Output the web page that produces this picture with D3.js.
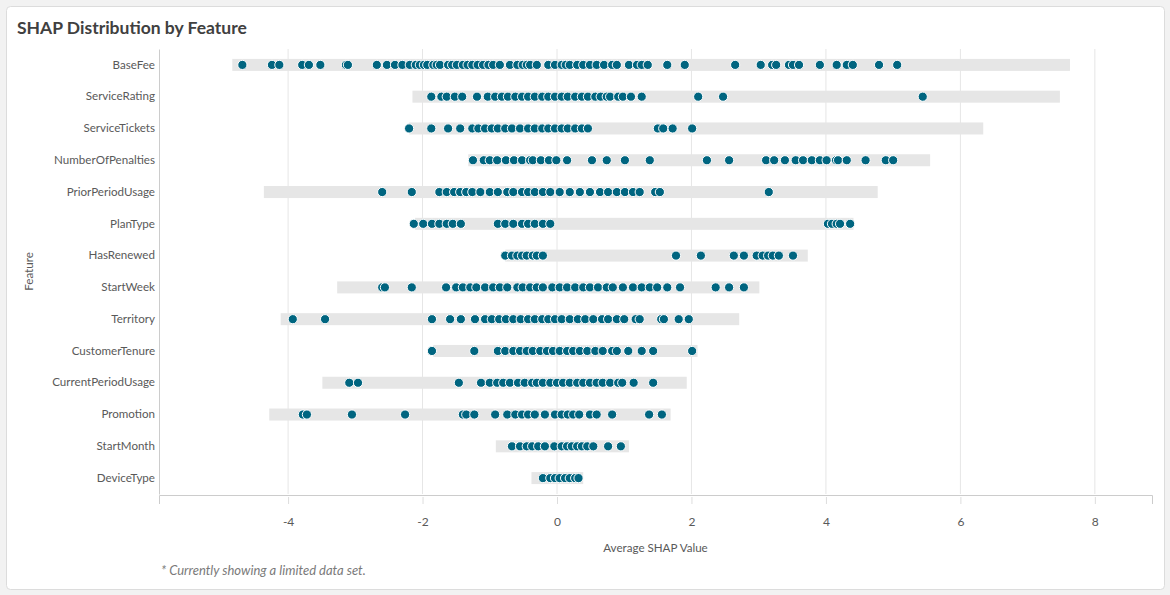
<!DOCTYPE html>
<html>
<head>
<meta charset="utf-8">
<script src="https://cdn.jsdelivr.net/npm/d3@7"></script>
<style>
  html, body { margin: 0; padding: 0; background: #f2f2f2; }
  body { width: 1170px; height: 595px; overflow: hidden; }
  text { font-family: Lato, "Open Sans", sans-serif; }
</style>
</head>
<body>
<div class="shap-plot"></div>
<script>
const features = ['BaseFee', 'ServiceRating', 'ServiceTickets', 'NumberOfPenalties', 'PriorPeriodUsage',
  'PlanType', 'HasRenewed', 'StartWeek', 'Territory', 'CustomerTenure', 'CurrentPeriodUsage',
  'Promotion', 'StartMonth', 'DeviceType'];

// full range of each feature (gray bar)
const rangeMin = [-4.83, -2.15, -2.20, -1.32, -4.36, -2.11, -0.77, -3.27, -4.11, -1.84, -3.49, -4.28, -0.91, -0.38];
const rangeMax = [7.63, 7.48, 6.34, 5.55, 4.77, 4.41, 3.73, 3.01, 2.71, 2.09, 1.93, 1.69, 1.07, 0.39];

// shap values shown as dots
const baseFee = [-4.68, -4.24, -4.13, -3.79, -3.69, -3.52, -3.14, -3.11, -2.68, -2.53, -2.41, -2.30, -2.19, -2.10,
  -2.04, -1.98, -1.93, -1.84, -1.79, -1.74, -1.62, -1.56, -1.49, -1.40, -1.33, -1.26, -1.18, -1.10, -1.02, -0.95,
  -0.85, -0.70, -0.59, -0.51, -0.45, -0.40, -0.30, -0.13, -0.03, 0.07, 0.13, 0.19, 0.30, 0.39, 0.49, 0.59, 0.70,
  0.82, 0.89, 1.07, 1.19, 1.26, 1.35, 1.64, 1.90, 2.65, 3.03, 3.20, 3.26, 3.45, 3.51, 3.60, 3.91, 4.16, 4.31,
  4.40, 4.79, 5.06];
const serviceRating = [-1.87, -1.72, -1.64, -1.52, -1.41, -1.19, -1.03, -0.92, -0.82, -0.73, -0.62, -0.52, -0.43,
  -0.33, -0.22, -0.13, -0.03, 0.07, 0.16, 0.27, 0.37, 0.46, 0.57, 0.65, 0.74, 0.79, 0.91, 0.98, 1.10, 1.26, 2.10,
  2.47, 5.44];
const serviceTickets = [-2.20, -1.87, -1.62, -1.44, -1.26, -1.17, -1.07, -0.97, -0.88, -0.77, -0.67, -0.55, -0.43,
  -0.33, -0.22, -0.13, -0.03, 0.07, 0.16, 0.27, 0.37, 0.46, 1.50, 1.58, 1.72, 2.01];
const numberOfPenalties = [-1.25, -1.09, -1.00, -0.89, -0.76, -0.64, -0.52, -0.40, -0.36, -0.24, -0.12, -0.01,
  0.15, 0.52, 0.74, 1.01, 1.38, 2.23, 2.56, 3.11, 3.23, 3.39, 3.55, 3.66, 3.79, 3.91, 4.01, 4.15, 4.18, 4.31,
  4.59, 4.89, 5.00];
const priorPeriodUsage = [-2.60, -2.16, -1.75, -1.64, -1.53, -1.44, -1.35, -1.26, -1.14, -1.00, -0.88, -0.74,
  -0.65, -0.52, -0.43, -0.33, -0.21, -0.10, 0.04, 0.19, 0.34, 0.49, 0.64, 0.76, 0.89, 1.01, 1.13, 1.23, 1.46,
  1.53, 3.15];
const planType = [-2.13, -1.99, -1.86, -1.75, -1.64, -1.55, -1.43, -0.88, -0.77, -0.65, -0.52, -0.43, -0.33,
  -0.21, -0.10, 4.03, 4.09, 4.16, 4.21, 4.36];
const hasRenewed = [-0.77, -0.67, -0.59, -0.52, -0.45, -0.36, -0.30, -0.21, 1.77, 2.14, 2.63, 2.78, 2.97, 3.06,
  3.14, 3.21, 3.30, 3.51];
const startWeek = [-2.60, -2.56, -2.16, -1.65, -1.50, -1.40, -1.29, -1.20, -1.07, -0.95, -0.85, -0.74, -0.59,
  -0.51, -0.40, -0.30, -0.21, -0.07, 0.04, 0.15, 0.27, 0.39, 0.49, 0.61, 0.74, 0.83, 0.98, 1.13, 1.26, 1.38,
  1.49, 1.64, 1.83, 2.36, 2.56, 2.78];
const territory = [-3.93, -3.45, -1.86, -1.59, -1.43, -1.22, -1.07, -0.97, -0.86, -0.76, -0.65, -0.54, -0.43,
  -0.33, -0.22, -0.13, -0.03, 0.07, 0.19, 0.31, 0.42, 0.54, 0.67, 0.76, 0.89, 1.00, 1.17, 1.23, 1.55, 1.59,
  1.81, 1.96];
const customerTenure = [-1.86, -1.23, -0.88, -0.77, -0.65, -0.55, -0.45, -0.36, -0.25, -0.15, -0.06, 0.04, 0.15,
  0.24, 0.34, 0.45, 0.57, 0.68, 0.82, 0.89, 1.06, 1.26, 1.43, 2.01];
const currentPeriodUsage = [-3.09, -2.96, -1.46, -1.13, -1.00, -0.89, -0.80, -0.70, -0.58, -0.48, -0.37, -0.30,
  -0.21, -0.10, 0.00, 0.09, 0.19, 0.30, 0.39, 0.49, 0.59, 0.68, 0.79, 0.91, 0.97, 1.14, 1.43];
const promotion = [-3.78, -3.72, -3.05, -2.26, -1.40, -1.35, -1.23, -0.92, -0.74, -0.62, -0.52, -0.43, -0.33,
  -0.18, -0.03, 0.07, 0.16, 0.24, 0.33, 0.49, 0.59, 0.82, 1.37, 1.56];
const startMonth = [-0.67, -0.55, -0.45, -0.37, -0.28, -0.18, -0.04, 0.07, 0.15, 0.22, 0.30, 0.37, 0.45, 0.54,
  0.76, 0.95];
const deviceType = [-0.21, -0.10, -0.03, 0.04, 0.12, 0.19, 0.27, 0.32];

const xTicks = [-4, -2, 0, 2, 4, 6, 8];

const seriesValues = [baseFee, serviceRating, serviceTickets, numberOfPenalties, priorPeriodUsage, planType,
  hasRenewed, startWeek, territory, customerTenure, currentPeriodUsage, promotion, startMonth, deviceType];

const rows = features.map((f, i) => ({ feature: f, min: rangeMin[i], max: rangeMax[i] }));
const points = [];
features.forEach((f, i) => seriesValues[i].forEach(v => points.push({ feature: f, value: v })));

const width = 1170;
const height = 595;
const plot = { left: 159, right: 1152, top: 49, bottom: 494 };

const svg = d3.select('.shap-plot')
  .append('svg')
  .attr('width', width)
  .attr('height', height);

// card
svg.append('rect')
  .attr('x', 6.5).attr('y', 6.5)
  .attr('width', 1158).attr('height', 583)
  .attr('rx', 4)
  .attr('fill', '#ffffff')
  .attr('stroke', '#dcdcdc');

svg.append('text')
  .attr('x', 17).attr('y', 34)
  .text('SHAP Distribution by Feature')
  .attr('font-size', 17.5)
  .attr('font-weight', 700)
  .attr('fill', '#404040');

const x = d3.scaleLinear()
  .domain([-5.92, 8.85])
  .range([plot.left, plot.right]);

const y = d3.scaleBand()
  .domain(features)
  .range([plot.top, plot.bottom]);

// gridlines
svg.append('g')
  .selectAll('line')
  .data(xTicks)
  .enter()
  .append('line')
  .attr('x1', d => x(d)).attr('x2', d => x(d))
  .attr('y1', plot.top).attr('y2', plot.bottom)
  .attr('stroke', '#e6e6e6')
  .attr('stroke-width', 1);

// x axis
const xAxis = svg.append('g')
  .attr('transform', `translate(0,${plot.bottom + 1})`)
  .call(d3.axisBottom(x).tickValues(xTicks).tickSize(9).tickPadding(13).tickFormat(d3.format('d')));
xAxis.select('.domain').attr('stroke', '#cccccc');
xAxis.selectAll('.tick line').attr('stroke', '#dddddd').attr('y1', 2);
xAxis.selectAll('.tick text')
  .attr('fill', '#595959')
  .attr('font-size', 12)
  .attr('font-family', 'Lato, sans-serif')
  .text(d => d < 0 ? '-' + Math.abs(d) : d);

// y axis
const yAxis = svg.append('g')
  .attr('transform', `translate(${plot.left},0)`)
  .call(d3.axisLeft(y).tickSize(0).tickPadding(4));
yAxis.select('.domain').attr('stroke', '#cccccc');
yAxis.selectAll('.tick text')
  .attr('fill', '#595959')
  .attr('font-size', 11.6)
  .attr('font-family', 'Lato, sans-serif');

// range bars
svg.append('g')
  .selectAll('rect')
  .data(rows)
  .enter()
  .append('rect')
  .attr('x', d => x(d.min))
  .attr('y', d => y(d.feature) + y.bandwidth() / 2 - 6)
  .attr('width', d => x(d.max) - x(d.min))
  .attr('height', 12)
  .attr('fill', '#e6e6e6');

// dots
svg.append('g')
  .selectAll('circle')
  .data(points)
  .enter()
  .append('circle')
  .attr('cx', d => x(d.value))
  .attr('cy', d => y(d.feature) + y.bandwidth() / 2)
  .attr('r', 4.6)
  .attr('fill', '#006580')
  .attr('stroke', '#ffffff')
  .attr('stroke-width', 1);

// axis titles
svg.append('text')
  .attr('x', (plot.left + plot.right) / 2)
  .attr('y', 552)
  .attr('text-anchor', 'middle')
  .attr('font-size', 11.6)
  .attr('fill', '#595959')
  .text('Average SHAP Value');

svg.append('text')
  .attr('transform', `translate(33,${(plot.top + plot.bottom) / 2}) rotate(-90)`)
  .attr('text-anchor', 'middle')
  .attr('font-size', 11.6)
  .attr('fill', '#595959')
  .text('Feature');

svg.append('text')
  .attr('x', 161)
  .attr('y', 575)
  .attr('font-size', 13)
  .attr('font-style', 'italic')
  .attr('fill', '#7a7a7a')
  .text('* Currently showing a limited data set.');
</script>
</body>
</html>
